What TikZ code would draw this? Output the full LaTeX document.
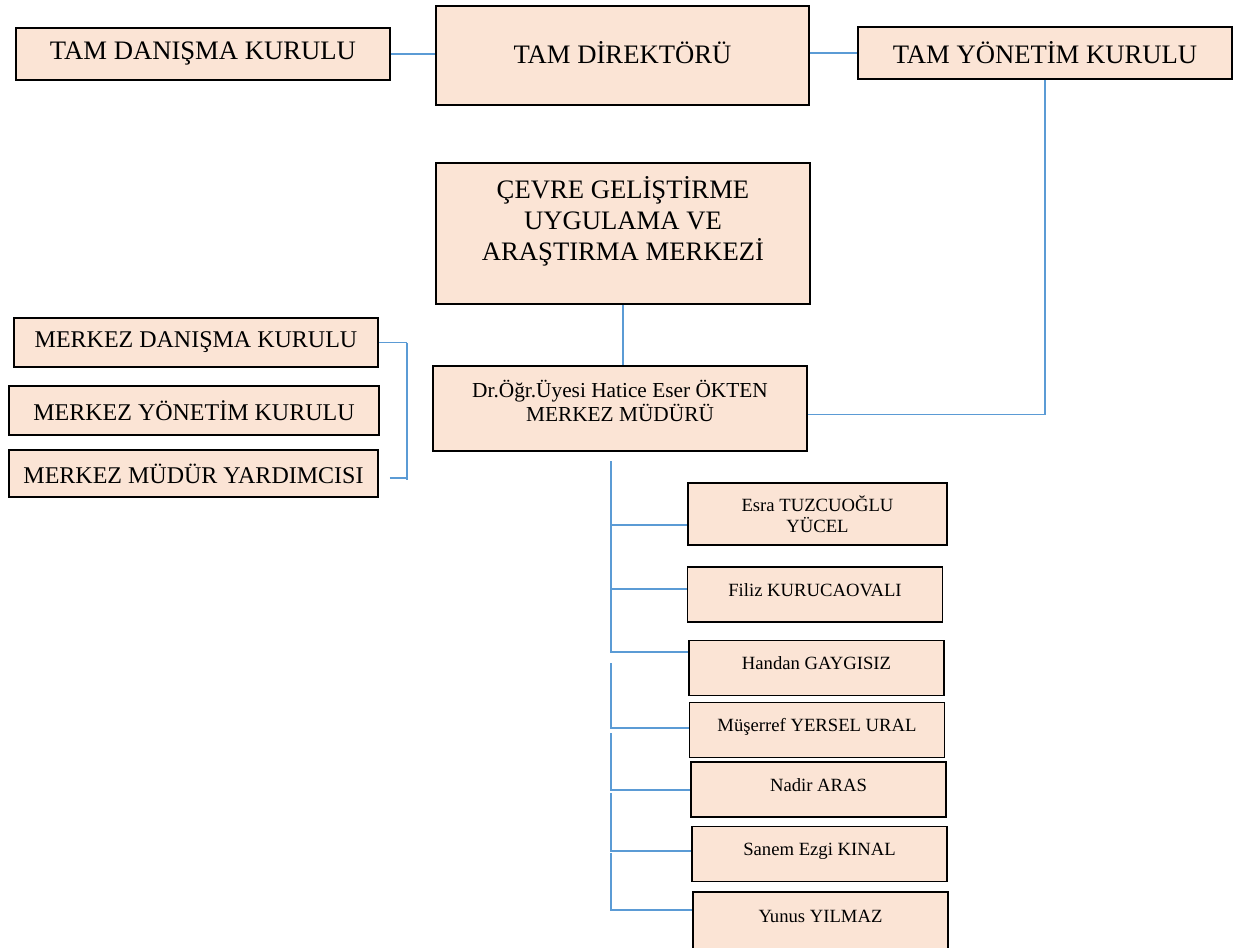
\documentclass[tikz,border=0pt]{standalone}
\usepackage{fontspec}
\setmainfont{Liberation Serif}
\usetikzlibrary{calc}

\definecolor{boxfill}{RGB}{251,228,213}
\definecolor{linkblue}{RGB}{91,155,213}

\tikzset{
  unit/.style={draw=black, line width=1.2pt, fill=boxfill, inner sep=2pt, align=center},
  link/.style={draw=linkblue, line width=0.8pt},
  bigtext/.style={font=\fontsize{20}{23.25}\selectfont},
  midtext/.style={font=\fontsize{18}{21}\selectfont},
  smalltext/.style={font=\fontsize{16}{18}\selectfont},
  tinytext/.style={font=\fontsize{14}{15.75}\selectfont},
  person/.style={unit, tinytext, minimum width=191.25pt, minimum height=41.25pt, text depth=7pt}
}

\begin{document}
\begin{tikzpicture}[x=0.75pt,y=-0.75pt]

  % Fix the page to the reference size (one unit is one pixel)
  \useasboundingbox (0,0) rectangle (1235,947);

  % Top row: advisory board, director, executive board
  \node[unit, bigtext, minimum width=280.5pt, minimum height=39pt] (tdk) at (203,54) {TAM DANIŞMA KURULU};
  \node[unit, bigtext, minimum width=279.75pt, minimum height=74.25pt, text depth=5pt] (tdr) at (622.5,55.5) {TAM DİREKTÖRÜ};
  \node[unit, bigtext, minimum width=280.5pt, minimum height=39pt] (tyk) at (1045,53) {TAM YÖNETİM KURULU};

  % The centre itself
  \node[unit, bigtext, minimum width=280.5pt, minimum height=105.75pt, text depth=22pt] (cm) at (623,233.5)
    {ÇEVRE GELİŞTİRME\\UYGULAMA VE\\ARAŞTIRMA MERKEZİ};

  % Centre director
  \node[unit, smalltext, minimum width=280.5pt, minimum height=63.75pt, text depth=11pt] (md) at (620,408.5)
    {Dr.Öğr.Üyesi Hatice Eser ÖKTEN\\MERKEZ MÜDÜRÜ};

  % Boards of the centre, on the left
  \node[unit, midtext, minimum width=273pt, minimum height=36.75pt] (mdk) at (196,342.5) {MERKEZ DANIŞMA KURULU};
  \node[unit, midtext, minimum width=277.5pt, minimum height=36.75pt] (myk) at (194,410.5) {MERKEZ YÖNETİM KURULU};
  \node[unit, midtext, minimum width=276.75pt, minimum height=35.25pt] (mmy) at (193.5,473.5) {MERKEZ MÜDÜR YARDIMCISI};

  % Staff, on the lower right
  \node[person, minimum width=194.25pt, minimum height=46.5pt, text depth=0pt] (es) at (817.5,514) {Esra TUZCUOĞLU\\YÜCEL};
  \node[person] (fk) at (815,594.5) {Filiz KURUCAOVALI};
  \node[person] (hg) at (816.5,668) {Handan GAYGISIZ};
  \node[person] (mu) at (817,730) {Müşerref YERSEL URAL};
  \node[person] (na) at (818.5,789.5) {Nadir ARAS};
  \node[person] (sk) at (819.5,854) {Sanem Ezgi KINAL};
  \node[person, minimum height=43.5pt] (yy) at (820.5,921) {Yunus YILMAZ};

  % Links of the top row
  \draw[link] (tdk.east) -- (tdk.east -| tdr.west);
  \draw[link] (tyk.west -| tdr.east) -- (tyk.west);

  % Executive board down and across to the director
  \draw[link] (tyk.south) |- ($(md.east)+(0,6)$);

  % Centre to director
  \draw[link] (cm.south) -- (cm.south |- md.north);

  % Bracket joining the boards on the left
  \coordinate (lbus) at (407,343);
  \coordinate (mmy-in) at ($(mmy.east)+(0,4.5)$);
  \draw[link] (mdk.east) -- (mdk.east -| lbus);
  \draw[link] (mdk.east -| lbus) -- ($(mmy-in -| lbus)+(0,2)$);
  \draw[link] ($(mmy-in)+(11,0)$) -- (mmy-in -| lbus);
  \draw[link] ($(myk.east)+(0,2.5)$) -- ($(myk.east)+(0,2.5)$ -| md.west);

  % Where the staff lines meet each box
  \coordinate (rbus) at (611,461);
  \coordinate (es-in) at ($(es.west)+(0,11)$);
  \coordinate (fk-in) at ($(fk.west)+(0,-5.5)$);
  \coordinate (hg-in) at ($(hg.west)+(0,-16)$);
  \coordinate (mu-in) at ($(mu.west)+(0,-2)$);
  \coordinate (na-in) at ($(na.west)+(0,0.5)$);
  \coordinate (sk-in) at ($(sk.west)+(0,-3)$);
  \coordinate (yy-in) at ($(yy.west)+(0,-11)$);

  % Staff lines: first run with three branches, then short runs
  \draw[link] (rbus) |- (hg-in);
  \foreach \p in {es,fk}
    \draw[link] (rbus |- \p-in) -- (\p-in);
  \foreach \a/\b/\g in {hg/mu/11, mu/na/5, na/sk/3, sk/yy/2}
    \draw[link] ($(rbus |- \a-in)+(0,\g)$) |- (\b-in);

\end{tikzpicture}
\end{document}
